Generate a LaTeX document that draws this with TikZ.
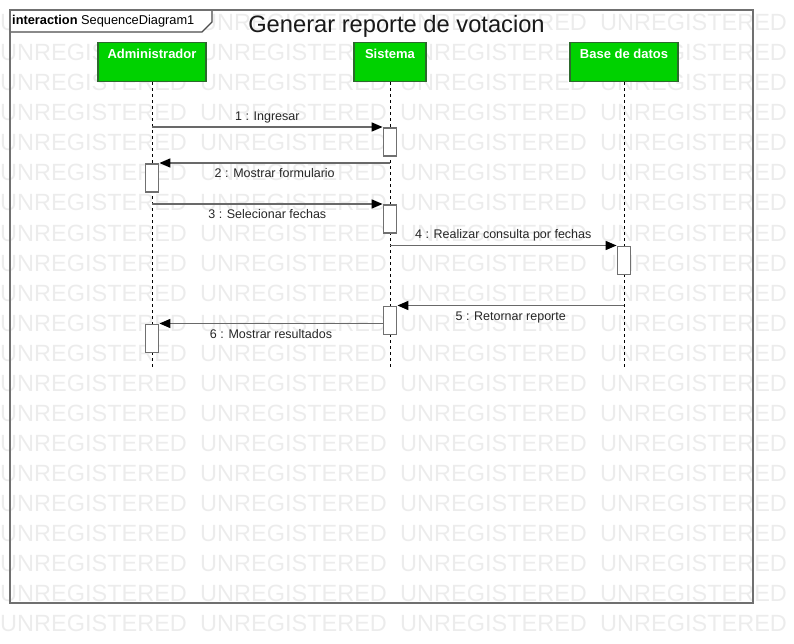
\documentclass[tikz,border=0pt]{standalone}
\usepackage{fontspec}
\setmainfont{Liberation Sans}
\usepackage{tikz}
\usetikzlibrary{arrows.meta}

\definecolor{framegray}{RGB}{112,112,112}
\definecolor{linegray}{RGB}{105,105,105}
\definecolor{headgreen}{RGB}{0,210,0}
\definecolor{headborder}{RGB}{45,105,45}
\definecolor{wmgray}{RGB}{236,236,236}

\begin{document}
\begin{tikzpicture}[x=1pt,y=-1pt,
    wmark/.style={anchor=base west,inner sep=0pt,text=wmgray,font=\fontsize{23.5}{25}\selectfont},
    headbox/.style={draw=headborder,fill=headgreen,line width=1.3pt,minimum height=39pt,inner sep=0pt,anchor=north},
    headlbl/.style={text=white,font=\fontsize{13}{15}\selectfont\bfseries,anchor=base,inner sep=0pt},
    lifeline/.style={dash pattern=on 3pt off 3pt,line width=1pt},
    actbox/.style={draw=framegray,fill=white,line width=1.8pt,minimum width=13pt,minimum height=28pt,inner sep=0pt,anchor=north},
    msg/.style={draw=linegray,line width=1.6pt,-{Triangle[length=11pt,width=9pt,color=black]}},
    msglbl/.style={text=black!85,font=\fontsize{12.5}{14}\selectfont,anchor=base,inner sep=0pt}]
          \useasboundingbox (0,0) rectangle (794,644);
          % watermark
          \foreach \r in {0,...,20}
            \foreach \c in {0,...,3}
              \node[wmark] (wm-\r-\c) at (200*\c,31+30*\r) {UNREGISTERED};
          % frame and tab
          \filldraw[fill=white,draw=black!70,line width=1.2pt] (10,10) -- (212,10) -- (212,22) -- (202,32) -- (10,32);
          \node[anchor=base west,inner sep=0pt,font=\fontsize{12.8}{14}\selectfont] (tab) at (12,25) {\textbf{interaction} SequenceDiagram1};
          \draw[framegray,line width=2pt] (10,10) rectangle (753,603);
          \node[anchor=base,inner sep=0pt,text=black!90,font=\fontsize{23.7}{26}\selectfont] (title) at (396.5,33) {Generar reporte de votacion};
          % lifeline heads
          \node[headbox,minimum width=108pt] (admin) at (152,42) {};
          \node[headlbl] (admin-lbl) at ([yshift=-17pt]admin.north) {Administrador};
          \node[headbox,minimum width=72pt] (sys) at (390,42) {};
          \node[headlbl] (sys-lbl) at ([yshift=-17pt]sys.north) {Sistema};
          \node[headbox,minimum width=108pt] (db) at (624,42) {};
          \node[headlbl] (db-lbl) at ([yshift=-17pt]db.north) {Base de datos};
          % lifelines
          \coordinate (admin-end) at (152,367);
          \coordinate (sys-end) at (390,367);
          \coordinate (db-end) at (624,367);
          \draw[lifeline] (admin.south) -- (admin-end);
          \draw[lifeline] (sys.south) -- (sys-end);
          \draw[lifeline] (db.south) -- (db-end);
          % activations
          \node[actbox] (sys1) at (390,127) {};
          \node[actbox] (adm1) at (152,163) {};
          \node[actbox] (sys2) at (390,204) {};
          \node[actbox] (db1) at (624,245.5) {};
          \node[actbox] (sys3) at (390,305.5) {};
          \node[actbox] (adm2) at (152,323.5) {};
          % messages
          \coordinate (m1) at (152,127);
          \coordinate (m2) at (390,163);
          \coordinate (m3) at (152,204);
          \coordinate (m4) at (390,245.5);
          \coordinate (m5) at (624,305.5);
          \draw[msg] (m1) -- (sys1.north west) node[msglbl,midway,yshift=6.5pt] {1 : Ingresar};
          \draw[msg] (m2) -- (adm1.north east) node[msglbl,midway,yshift=-14.5pt] {2 : Mostrar formulario};
          \draw[msg] (m3) -- (sys2.north west) node[msglbl,midway,yshift=-14.5pt] {3 : Selecionar fechas};
          \draw[msg] (m4) -- (db1.north west) node[msglbl,midway,yshift=6.5pt] {4 : Realizar consulta por fechas};
          \draw[msg] (m5) -- (sys3.north east) node[msglbl,midway,yshift=-14.5pt] {5 : Retornar reporte};
          \draw[msg] (sys3.west |- adm2.north) -- (adm2.north east) node[msglbl,midway,yshift=-14.5pt] {6 : Mostrar resultados};
        \end{tikzpicture}
\end{document}
